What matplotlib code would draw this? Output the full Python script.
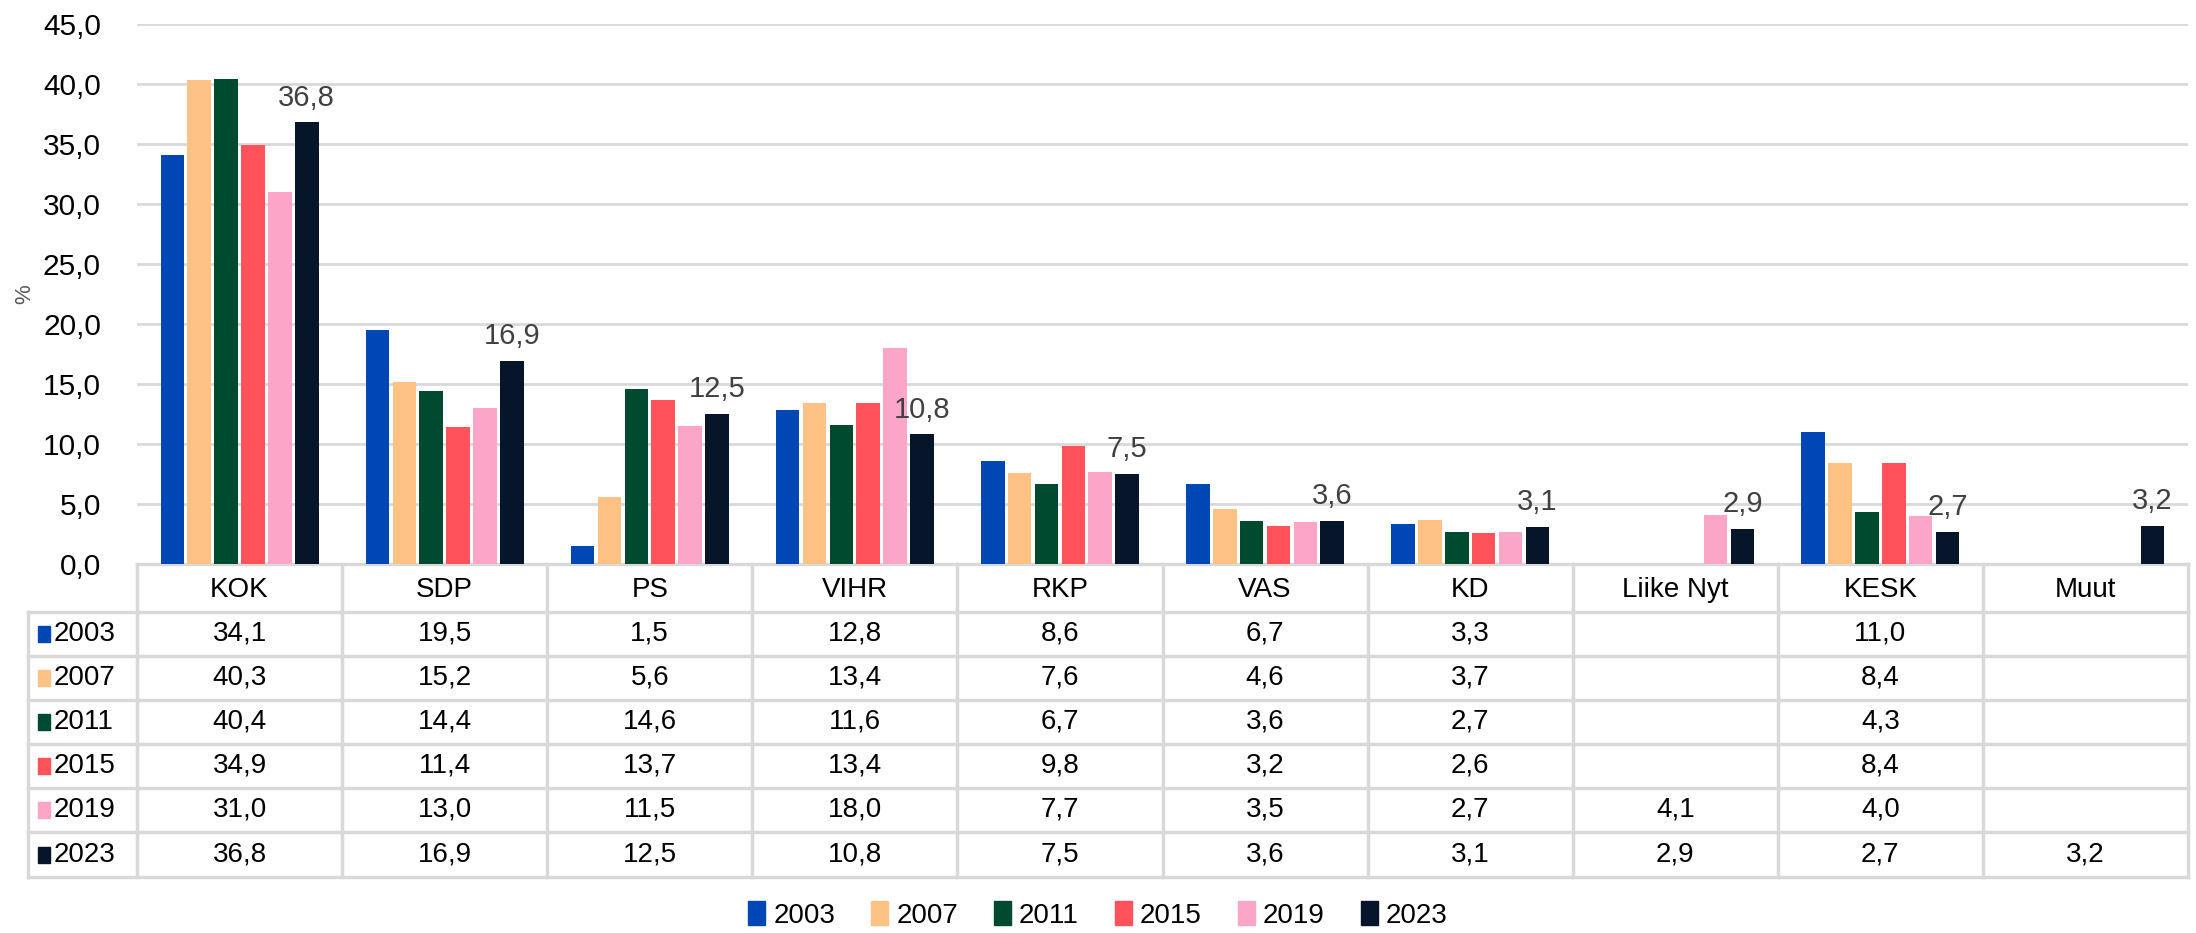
import matplotlib
matplotlib.use('Agg')
from matplotlib import pyplot as plt
from matplotlib import font_manager
from matplotlib.patches import Patch, Rectangle
from matplotlib.transforms import blended_transform_factory
import numpy as np

parties = ['KOK', 'SDP', 'PS', 'VIHR', 'RKP', 'VAS', 'KD', 'Liike Nyt', 'KESK', 'Muut']
years = ['2003', '2007', '2011', '2015', '2019', '2023']
nan = np.nan
v2003 = [34.1, 19.5, 1.5, 12.8, 8.6, 6.7, 3.3, nan, 11.0, nan]
v2007 = [40.3, 15.2, 5.6, 13.4, 7.6, 4.6, 3.7, nan, 8.4, nan]
v2011 = [40.4, 14.4, 14.6, 11.6, 6.7, 3.6, 2.7, nan, 4.3, nan]
v2015 = [34.9, 11.4, 13.7, 13.4, 9.8, 3.2, 2.6, nan, 8.4, nan]
v2019 = [31.0, 13.0, 11.5, 18.0, 7.7, 3.5, 2.7, 4.1, 4.0, nan]
v2023 = [36.8, 16.9, 12.5, 10.8, 7.5, 3.6, 3.1, 2.9, 2.7, 3.2]
series = [v2003, v2007, v2011, v2015, v2019, v2023]
colors = ['#0047B6', '#FFC285', '#004A2F', '#FF525A', '#FBA6C8', '#07152B']

names = {f.name for f in font_manager.fontManager.ttflist}
plt.rcParams['font.family'] = ['Liberation Sans', 'DejaVu Sans']
narrow = 'Liberation Sans Narrow' if 'Liberation Sans Narrow' in names else 'Liberation Sans'
tsize = 20 if narrow == 'Liberation Sans' else 22

W, H = 2196, 933
fig = plt.figure(figsize=(W / 100, H / 100), dpi=100)

# pixel layout (from top-left)
left, right, top, base = 137, 2188, 24, 564
ax = fig.add_axes([left / W, 1 - base / H, (right - left) / W, (base - top) / H])

def fmt(v):
    return f'{v:.1f}'.replace('.', ',')

x = np.arange(len(parties))
pitch, bw = 0.131, 0.115
for k, (vals, c) in enumerate(zip(series, colors)):
    ax.bar(x + (k - 2.5) * pitch, vals, width=bw, color=c, zorder=3)

# labels above 2023 bars
for i, v in enumerate(v2023):
    ax.text(i + 2.5 * pitch, v + 0.9, fmt(v), ha='center', va='bottom',
            fontsize=21, color='#404040', zorder=4)

ax.set_xlim(-0.5, len(parties) - 0.5)
ax.set_ylim(0, 45)
ax.set_yticks(np.arange(0, 46, 5))
ax.set_yticklabels([fmt(t) for t in np.arange(0, 46, 5)], fontsize=21.5)
ax.set_xticks([])
ax.tick_params(axis='y', length=0, pad=26)
ax.yaxis.grid(True, color='#D9D9D9', linewidth=2, zorder=0)
for s in ax.spines.values():
    s.set_visible(False)

fig.text(25 / W, 1 - 294 / H, '%', rotation=90, ha='center', va='center',
         fontsize=16, color='#595959')

# data table under the axis
tr = blended_transform_factory(ax.transData, fig.transFigure)
rows_px = [564, 612, 656, 700, 744, 788, 832, 877]
fy = [1 - r / H for r in rows_px]
xl = -0.5 - (left - 28) / ((right - left) / len(parties))
xr = len(parties) - 0.5
lc = '#D9D9D9'
ax.plot([-0.5, xr], [fy[0], fy[0]], color=lc, lw=2.5, transform=tr, clip_on=False)
for y in fy[1:]:
    ax.plot([xl, xr], [y, y], color=lc, lw=2.5, transform=tr, clip_on=False)
for i in range(len(parties) + 1):
    ax.plot([i - 0.5, i - 0.5], [fy[0], fy[-1]], color=lc, lw=2.5, transform=tr, clip_on=False)
ax.plot([xl, xl], [fy[1], fy[-1]], color=lc, lw=2.5, transform=tr, clip_on=False)

for i, p in enumerate(parties):
    ax.text(i, (fy[0] + fy[1]) / 2 - 2 / H, p, ha='center', va='center', fontsize=tsize,
            family=narrow, transform=tr)
for k, (vals, yr, c) in enumerate(zip(series, years, colors)):
    yc = (fy[k + 1] + fy[k + 2]) / 2
    fig.patches.append(Rectangle((38 / W, yc - 8 / H), 12 / W, 16 / H,
                                 color=c, transform=fig.transFigure))
    fig.text(54 / W, yc, yr, ha='left', va='center', fontsize=tsize, family=narrow)
    for i, v in enumerate(vals):
        if not np.isnan(v):
            ax.text(i, yc, fmt(v), ha='center', va='center', fontsize=tsize,
                    family=narrow, transform=tr)

handles = [Patch(color=c, label=y) for y, c in zip(years, colors)]
fig.legend(handles=handles, loc='center', bbox_to_anchor=(0.5, 1 - 915 / H), ncol=6,
           frameon=False, handlelength=0.6, handleheight=0.9,
           handletextpad=0.3, columnspacing=1.3, prop={'family': narrow, 'size': tsize})

fig.savefig('out.png', dpi=100)
